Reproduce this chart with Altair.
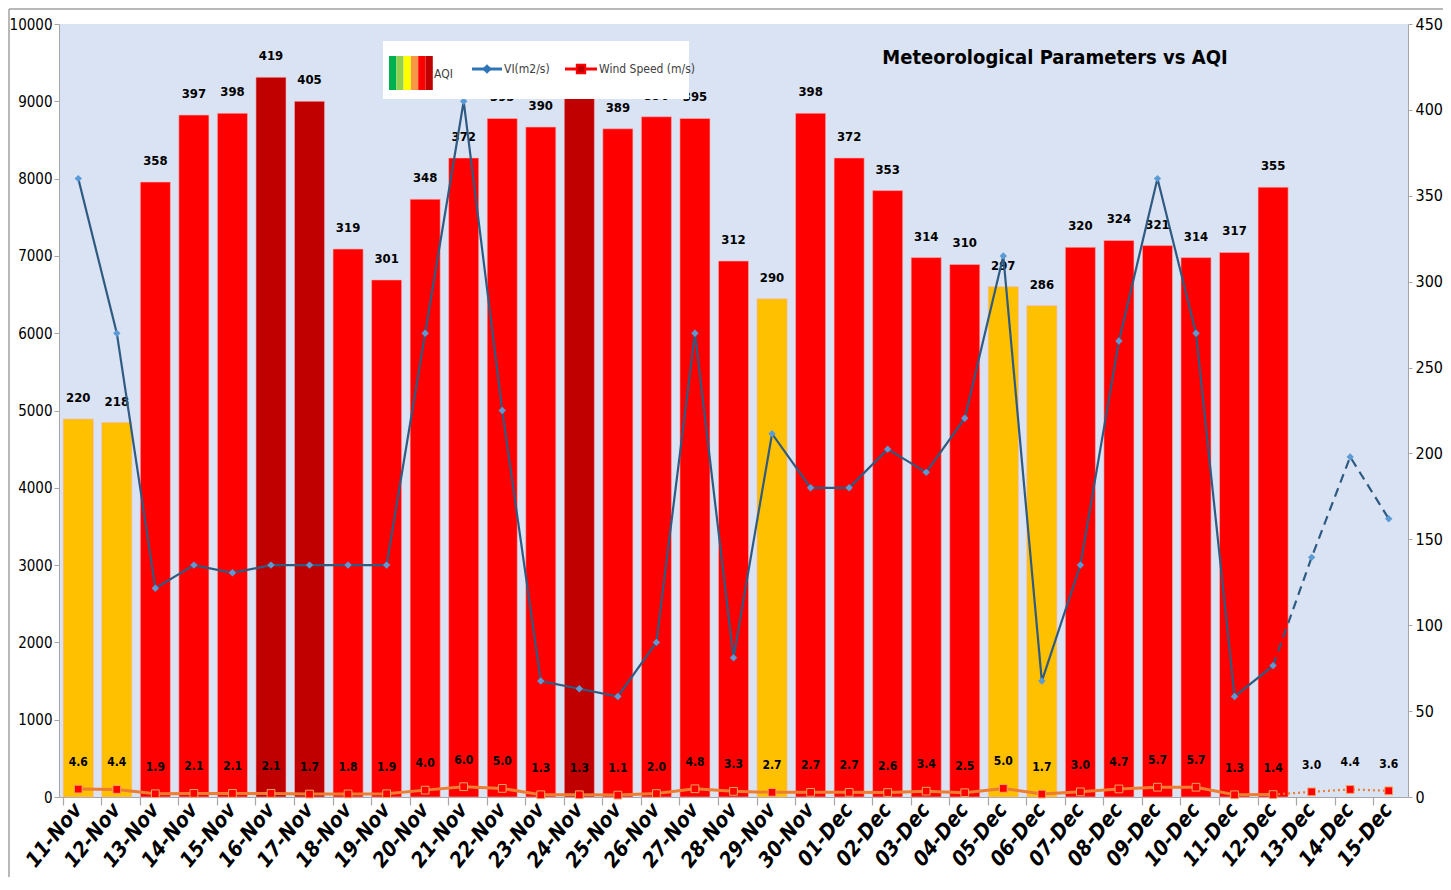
import altair as alt
import pandas as pd

# ---------------- data ----------------
dates = ["11-Nov", "12-Nov", "13-Nov", "14-Nov", "15-Nov", "16-Nov", "17-Nov", "18-Nov",
         "19-Nov", "20-Nov", "21-Nov", "22-Nov", "23-Nov", "24-Nov", "25-Nov", "26-Nov",
         "27-Nov", "28-Nov", "29-Nov", "30-Nov", "01-Dec", "02-Dec", "03-Dec", "04-Dec",
         "05-Dec", "06-Dec", "07-Dec", "08-Dec", "09-Dec", "10-Dec", "11-Dec", "12-Dec",
         "13-Dec", "14-Dec", "15-Dec"]

aqi = [220, 218, 358, 397, 398, 419, 405, 319, 301, 348,
       372, 395, 390, 410, 389, 396, 395, 312, 290, 398,
       372, 353, 314, 310, 297, 286, 320, 324, 321, 314, 317, 355]

vi = [8000, 6000, 2700, 3000, 2900, 3000, 3000, 3000, 3000, 6000,
      9000, 5000, 1500, 1400, 1300, 2000, 6000, 1800, 4700, 4000,
      4000, 4500, 4200, 4900, 7000, 1500, 3000, 5900, 8000, 6000, 1300, 1700,
      3100, 4400, 3600]

wind = [4.6, 4.4, 1.9, 2.1, 2.1, 2.1, 1.7, 1.8, 1.9, 4.0,
        6.0, 5.0, 1.3, 1.3, 1.1, 2.0, 4.8, 3.3, 2.7, 2.7,
        2.7, 2.6, 3.4, 2.5, 5.0, 1.7, 3.0, 4.7, 5.7, 5.7, 1.3, 1.4,
        3.0, 4.4, 3.6]

aqi_categories = ["Poor", "Very Poor", "Severe"]
aqi_colors = ["#FFC000", "#FF0000", "#C00000"]
legend_swatch = ["#00B050", "#92D050", "#FFFF00", "#F79646", "#FF0000", "#C00000"]

n_obs = len(aqi)

bars_df = pd.DataFrame({"date": dates[:n_obs], "aqi": aqi})
bars_df["cat"] = ["Poor" if a <= 300 else ("Very Poor" if a <= 400 else "Severe") for a in aqi]

line_df = pd.DataFrame({"date": dates, "vi": vi, "wind": wind, "i": list(range(len(dates)))})
obs_df = line_df.iloc[:n_obs]
fc_df = line_df.iloc[n_obs - 1:]

# ---------------- styling ----------------
FONT = "Liberation Sans Narrow, DejaVu Sans Condensed, Roboto, sans-serif"
W, H = 1349, 773
PAD_L, PAD_T, PAD_R, PAD_B = 51, 16, 35, 80
AX = "#A6A6A6"
xscale = alt.Scale(domain=dates, paddingInner=0.22, paddingOuter=0.11)
right_scale = alt.Scale(domain=[0, 450], nice=False)
left_scale = alt.Scale(domain=[0, 10000], nice=False)

x_labels = alt.X("date:N", scale=xscale, axis=alt.Axis(
    orient="bottom", title=None, labelAngle=309, labelFont=FONT, labelFontSize=21,
    labelFontWeight="bold", labelFontStyle="italic", labelColor="black", ticks=False,
    domainColor=AX, labelPadding=9, labelOverlap=False))
x_ticks = alt.X("date:N", scale=xscale, axis=alt.Axis(
    orient="bottom", title=None, labels=False, ticks=True, tickSize=8, tickColor=AX,
    tickWidth=1.2, domain=False, bandPosition=0))
x_none = alt.X("date:N", scale=xscale, axis=None)

# bars (AQI, right axis)
bars = alt.Chart(bars_df).mark_bar(stroke="#F8B4B4", strokeWidth=0.6).encode(
    x=x_labels,
    y=alt.Y("aqi:Q", scale=right_scale, axis=alt.Axis(
        orient="right", title=None, values=list(range(0, 451, 50)), grid=False,
        labelFont=FONT, labelFontSize=16, labelColor="black", domainColor=AX,
        tickColor=AX, tickSize=4, labelPadding=3, labelOverlap=False, format="d")),
    color=alt.Color("cat:N", scale=alt.Scale(domain=aqi_categories, range=aqi_colors), legend=None),
)
bar_labels = alt.Chart(bars_df).mark_text(
    font=FONT, fontSize=13, fontWeight="bold", color="black", baseline="middle", dy=-21
).encode(x=x_none, y=alt.Y("aqi:Q", scale=right_scale, axis=None), text="aqi:Q")

# VI (left axis)
vi_line = alt.Chart(obs_df).mark_line(color="#2F5B82", strokeWidth=2.2).encode(
    x=x_ticks,
    y=alt.Y("vi:Q", scale=left_scale, axis=alt.Axis(
        orient="left", title=None, values=list(range(0, 10001, 1000)), grid=False,
        labelFont=FONT, labelFontSize=15, labelColor="black", domainColor=AX,
        tickColor=AX, tickSize=5, labelPadding=2, labelOverlap=False, format="d")),
    order="i:Q")
vi_fc = alt.Chart(fc_df).mark_line(color="#2F5B82", strokeWidth=2.2, strokeDash=[9, 6]).encode(
    x=x_none, y=alt.Y("vi:Q", scale=left_scale, axis=None), order="i:Q")
vi_pts = alt.Chart(line_df).mark_point(shape="diamond", filled=True, size=55, color="#5B9BD5", opacity=1).encode(
    x=x_none, y=alt.Y("vi:Q", scale=left_scale, axis=None))

# Wind speed (right axis scale)
wind_line = alt.Chart(obs_df).mark_line(color="#ED7D31", strokeWidth=3).encode(
    x=x_none, y=alt.Y("wind:Q", scale=right_scale, axis=None), order="i:Q")
wind_fc = alt.Chart(fc_df).mark_line(color="#ED7D31", strokeWidth=2.2, strokeDash=[2, 3]).encode(
    x=x_none, y=alt.Y("wind:Q", scale=right_scale, axis=None), order="i:Q")
wind_pts = alt.Chart(line_df).mark_point(shape="square", filled=True, size=60, color="#FF0000",
                                         stroke="#F4A460", strokeWidth=1, opacity=1).encode(
    x=x_none, y=alt.Y("wind:Q", scale=right_scale, axis=None))
wind_labels = alt.Chart(line_df).mark_text(
    font=FONT, fontSize=12, fontWeight="bold", color="black", baseline="middle", dy=-27
).encode(x=x_none, y=alt.Y("wind:Q", scale=right_scale, axis=None),
         text=alt.Text("wind:Q", format=".1f"))

# ---------------- decorations (legend, title, frame) ----------------
one = pd.DataFrame({"t": ["Meteorological Parameters vs AQI"]})
title = alt.Chart(one).mark_text(font=FONT, fontSize=20, fontWeight="bold", color="black",
                                 align="center", baseline="middle").encode(
    x=alt.value(996), y=alt.value(34), text="t:N")

# outer chart frame (top and left edges, inside the svg bounds)
frame_top = alt.Chart(one).mark_rule(color="#A0A0A0", strokeWidth=1.5).encode(
    x=alt.value(-PAD_L + 1), x2=alt.value(W + PAD_R), y=alt.value(-PAD_T + 1))
frame_left = alt.Chart(one).mark_rule(color="#A0A0A0", strokeWidth=1.5).encode(
    x=alt.value(-PAD_L + 1), y=alt.value(-PAD_T + 1), y2=alt.value(H + PAD_B))

leg_box = alt.Chart(one).mark_rect(fill="white").encode(
    x=alt.value(324), x2=alt.value(630), y=alt.value(17), y2=alt.value(75))

legend_layers = [leg_box]
for k, c in enumerate(legend_swatch):
    legend_layers.append(alt.Chart(one).mark_rect(fill=c).encode(
        x=alt.value(330 + 7.3 * k), x2=alt.value(330 + 7.3 * (k + 1)),
        y=alt.value(32), y2=alt.value(66)))

leg_text_style = dict(font=FONT, fontSize=12, color="#404040", align="left", baseline="middle")
legend_layers += [
    alt.Chart(pd.DataFrame({"t": ["AQI"]})).mark_text(**leg_text_style).encode(
        x=alt.value(375), y=alt.value(50), text="t:N"),
    alt.Chart(one).mark_rule(color="#2E75B6", strokeWidth=3).encode(
        x=alt.value(413), x2=alt.value(443), y=alt.value(45)),
    alt.Chart(one).mark_point(shape="diamond", filled=True, size=90, color="#2E75B6", opacity=1).encode(
        x=alt.value(428), y=alt.value(45)),
    alt.Chart(pd.DataFrame({"t": ["VI(m2/s)"]})).mark_text(**leg_text_style).encode(
        x=alt.value(445), y=alt.value(45), text="t:N"),
    alt.Chart(one).mark_rule(color="#FF0000", strokeWidth=3).encode(
        x=alt.value(506), x2=alt.value(538), y=alt.value(45)),
    alt.Chart(one).mark_point(shape="square", filled=True, size=70, color="#C00000",
                              stroke="#FF0000", strokeWidth=2, opacity=1).encode(
        x=alt.value(522), y=alt.value(45)),
    alt.Chart(pd.DataFrame({"t": ["Wind Speed (m/s)"]})).mark_text(**leg_text_style).encode(
        x=alt.value(540), y=alt.value(45), text="t:N"),
]

chart = alt.layer(
    bars, bar_labels, vi_line, vi_fc, vi_pts, wind_line, wind_fc, wind_pts, wind_labels,
    *legend_layers, title, frame_top, frame_left
).resolve_scale(y="independent").resolve_axis(x="independent").properties(
    width=W, height=H,
    autosize=alt.AutoSizeParams(type="none"),
    padding={"left": PAD_L, "top": PAD_T, "right": PAD_R, "bottom": PAD_B},
    background="white",
).configure_view(fill="#DAE3F3", strokeWidth=0)

chart.save("out.html", embed_options={"renderer": "svg", "actions": False})
